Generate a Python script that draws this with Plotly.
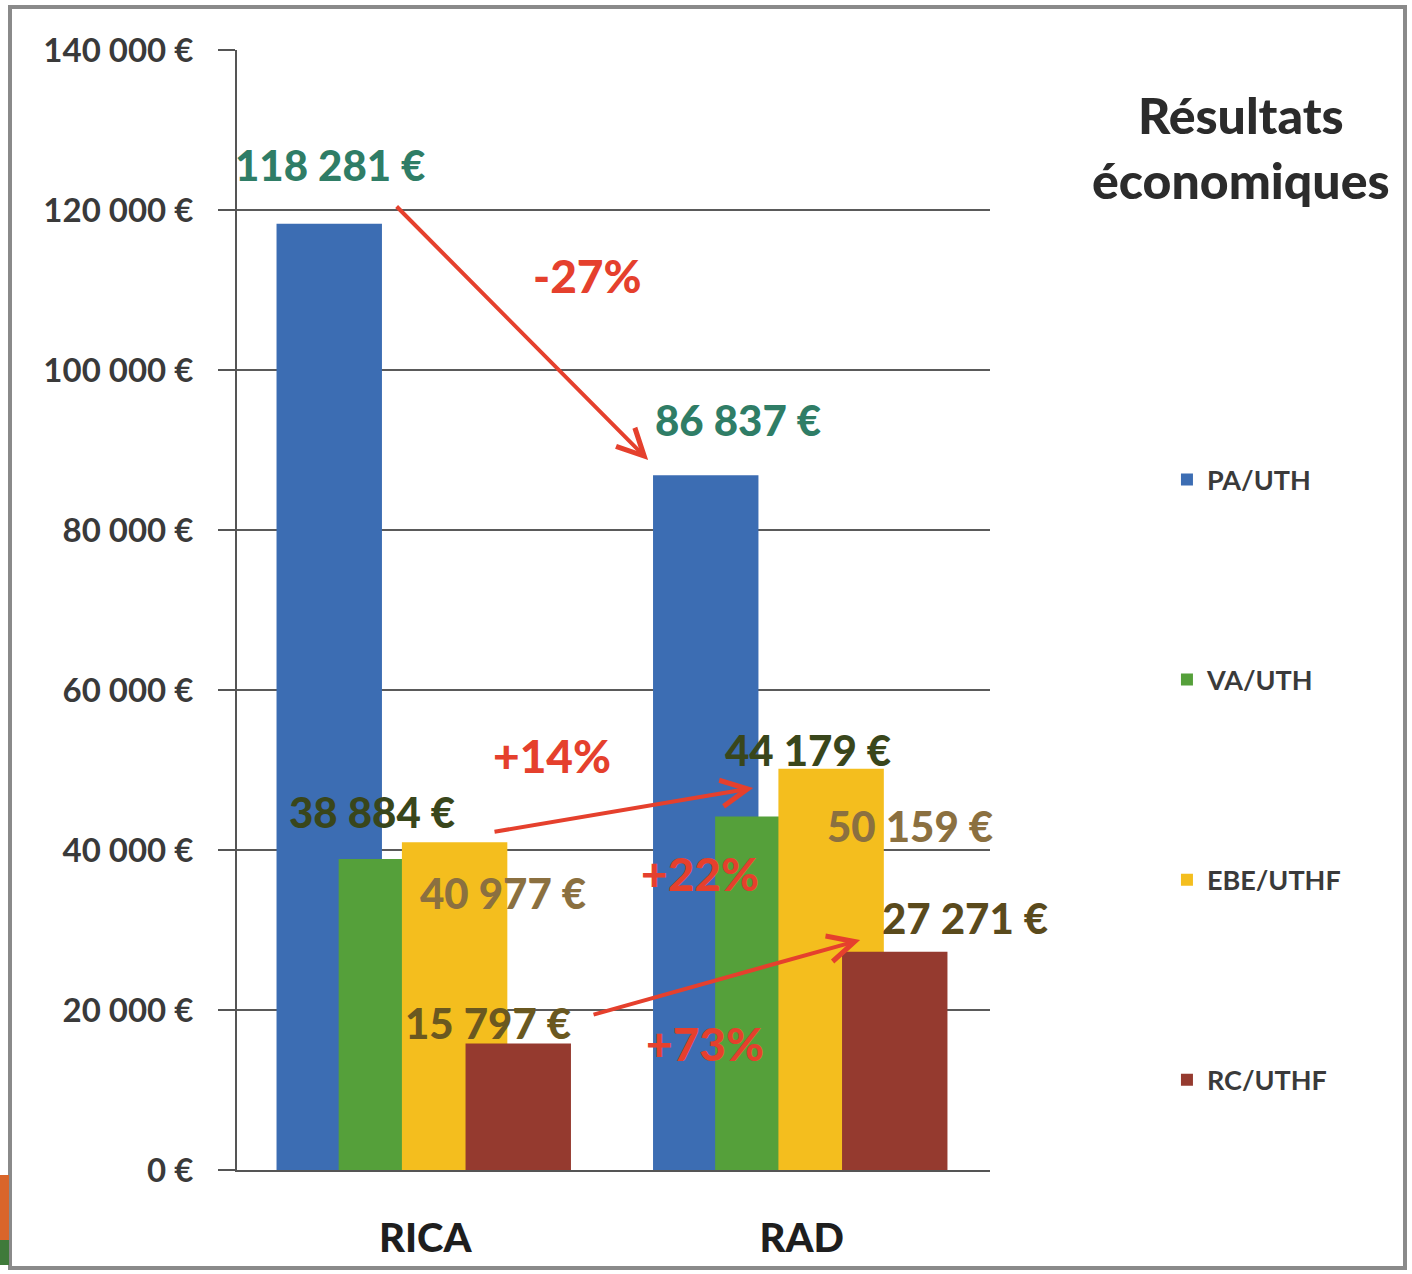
import plotly.graph_objects as go

categories = ["RICA", "RAD"]
series_names = ["PA/UTH", "VA/UTH", "EBE/UTHF", "RC/UTHF"]
pa_uth = [118281, 86837]
va_uth = [38884, 44179]
ebe_uthf = [40977, 50159]
rc_uthf = [15797, 27271]
label_texts = {
    "PA/UTH": ["118 281 €", "86 837 €"],
    "VA/UTH": ["38 884 €", "44 179 €"],
    "EBE/UTHF": ["40 977 €", "50 159 €"],
    "RC/UTHF": ["15 797 €", "27 271 €"],
}
pct_texts = ["-27%", "+14%", "+22%", "+73%"]
y_tickvals = [0, 20000, 40000, 60000, 80000, 100000, 120000, 140000]
y_ticktext = ["0 €", "20 000 €", "40 000 €", "60 000 €", "80 000 €", "100 000 €", "120 000 €", "140 000 €"]

colors = ["#3c6db3", "#55a03a", "#f4be1e", "#953a2f"]
offsets = [-0.395, -0.23, -0.062, 0.107]
bar_w = 0.28

fig = go.Figure()
for name, vals, col, off in zip(series_names, [pa_uth, va_uth, ebe_uthf, rc_uthf], colors, offsets):
    fig.add_trace(go.Bar(
        x=categories, y=vals, name=name, marker=dict(color=col, line=dict(width=0)),
        offset=off, width=bar_w, legendgroup=name,
    ))

FONT = "Lato"
ann = []
lab_pos = {
    "PA/UTH": [(-0.253, 125625, "#2f7d66"), (0.831, 93750, "#2f7d66")],
    "VA/UTH": [(-0.141, 44750, "#39461b"), (1.017, 52500, "#39461b")],
    "EBE/UTHF": [(0.207, 34625, "#8b7040"), (1.288, 43000, "#8b7040")],
    "RC/UTHF": [(0.167, 18375, "#6a5820"), (1.434, 31500, "#5a4a1c")],
}
for name in series_names:
    for (x, y, c), t in zip(lab_pos[name], label_texts[name]):
        ann.append(dict(x=x, y=y, xref="x", yref="y", text=t, showarrow=False,
                        font=dict(family=FONT, size=42, color=c, weight=900)))
pct_pos = [(0.432, 111875), (0.337, 51875), (0.73, 37125), (0.743, 15875)]
for (x, y), t in zip(pct_pos, pct_texts):
    ann.append(dict(x=x, y=y, xref="x", yref="y", text=t, showarrow=False,
                    font=dict(family=FONT, size=46, color="#e5402d", weight=900)))
arrows = [((-0.080, 120625), (0.592, 88750)),
          ((0.180, 42250), (0.871, 47750)),
          ((0.443, 19375), (1.155, 28750))]
for (tx, ty), (hx, hy) in arrows:
    ann.append(dict(x=hx, y=hy, ax=tx, ay=ty, xref="x", yref="y", axref="x", ayref="y",
                    text="", showarrow=True, arrowhead=5, arrowsize=1.3, arrowwidth=4,
                    arrowcolor="#e5402d"))
ann.append(dict(x=1.333, y=0.913, xref="paper", yref="paper", xanchor="center", yanchor="middle",
                text="Résultats<br>économiques", showarrow=False, align="center",
                font=dict(family=FONT, size=50, color="#2b2b2b", weight=900)))

shapes = [
    dict(type="rect", xref="paper", yref="paper",
         x0=(10 - 237) / 753, x1=(1405 - 237) / 753,
         y0=(1170 - 1268) / 1120, y1=(1170 - 7) / 1120,
         line=dict(color="#8a8a8a", width=4), fillcolor="rgba(0,0,0,0)", layer="below"),
    dict(type="rect", xref="paper", yref="paper",
         x0=(0 - 237) / 753, x1=(9 - 237) / 753,
         y0=(1170 - 1240) / 1120, y1=(1170 - 1175) / 1120,
         line=dict(width=0), fillcolor="#d9652a", layer="below"),
    dict(type="rect", xref="paper", yref="paper",
         x0=(0 - 237) / 753, x1=(9 - 237) / 753,
         y0=(1170 - 1265) / 1120, y1=(1170 - 1240) / 1120,
         line=dict(width=0), fillcolor="#3f7a3a", layer="below"),
]

fig.update_layout(
    width=1412, height=1274,
    margin=dict(l=237, r=422, t=50, b=104),
    barmode="overlay",
    paper_bgcolor="white", plot_bgcolor="white",
    font=dict(family=FONT, color="#333333"),
    xaxis=dict(showline=True, linecolor="#555555", linewidth=2, ticks="",
               tickfont=dict(family=FONT, size=40, color="#1e1e1e", weight=900),
               tickvals=categories, ticktext=categories,
               ticklabelstandoff=32, range=[-0.5, 1.5]),
    yaxis=dict(range=[0, 140000], tickvals=y_tickvals, ticktext=y_ticktext,
               showgrid=True, gridcolor="#5a5a5a", gridwidth=1.6,
               showline=True, linecolor="#555555", linewidth=2,
               ticks="outside", ticklen=17, tickcolor="#555555", tickwidth=1.5,
               tickfont=dict(family=FONT, size=33, color="#3a3a3a", weight=700),
               ticklabelstandoff=18, zeroline=False),
    legend=dict(x=1.235, y=0.638, xanchor="left", yanchor="top",
                tracegroupgap=162, font=dict(family=FONT, size=27, color="#3a3a3a", weight=700),
                itemwidth=30, bgcolor="rgba(0,0,0,0)"),
    annotations=ann, shapes=shapes,
    showlegend=True,
)

fig.write_html("out.html")
